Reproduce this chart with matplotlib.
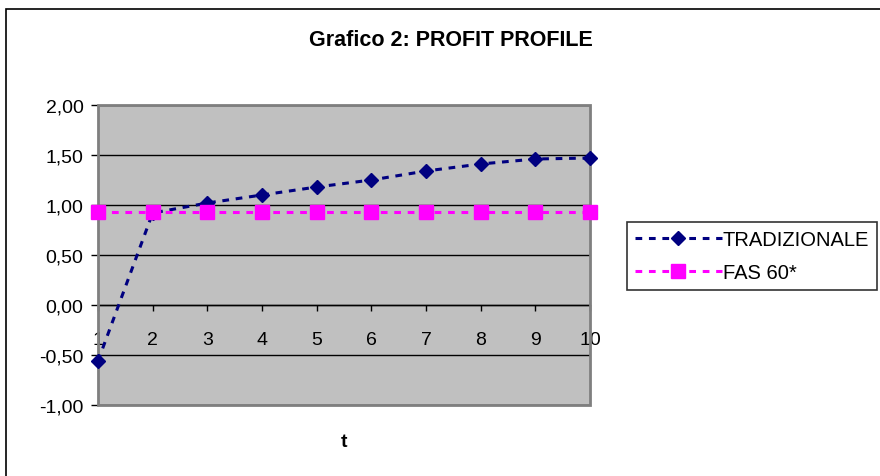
import matplotlib.pyplot as plt
from matplotlib.patches import Rectangle
from matplotlib.ticker import FuncFormatter

plt.rcParams['font.family'] = ['Liberation Sans', 'DejaVu Sans']

# Profit profile by period t
t = [1, 2, 3, 4, 5, 6, 7, 8, 9, 10]
tradizionale = [-0.56, 0.92, 1.02, 1.10, 1.18, 1.25, 1.34, 1.41, 1.46, 1.47]
fas60 = [0.93, 0.93, 0.93, 0.93, 0.93, 0.93, 0.93, 0.93, 0.93, 0.93]
y_ticks = [-1.0, -0.5, 0.0, 0.5, 1.0, 1.5, 2.0]

W, H = 880, 477
fig = plt.figure(figsize=(W / 100, H / 100), dpi=100)
fig.patch.set_facecolor('white')

# outer chart frame (runs off the right/bottom edge)
fig.patches.append(Rectangle((6 / W, -0.1), 1.2, 1 - 10 / H + 0.1,
                             transform=fig.transFigure, fill=False,
                             edgecolor='black', linewidth=1.2))

ax = fig.add_axes([98 / W, 1 - 406 / H, (590 - 98) / W, (406 - 106) / H])
ax.set_facecolor('#C0C0C0')

ax.plot(t, tradizionale, color='#000080', linestyle=(0, (2.2, 2.2)),
        linewidth=2.2, marker='D', markersize=6.8, label='TRADIZIONALE',
        clip_on=False, zorder=4)
ax.plot(t, fas60, color='#FF00FF', linestyle=(0, (2.2, 2.2)),
        linewidth=2.2, marker='s', markersize=10.5, label='FAS 60*',
        clip_on=False, zorder=5)

ax.set_xlim(1, 10)
ax.set_ylim(-1, 2)
ax.set_yticks(y_ticks)
ax.yaxis.set_major_formatter(FuncFormatter(lambda v, p: f"{v:.2f}".replace('.', ',')))
ax.yaxis.grid(True, color='black', linewidth=1)
ax.set_axisbelow(True)
ax.tick_params(axis='y', direction='out', length=5, width=1, labelsize=14,
               colors='black', pad=5.5)

# x axis crosses at y = 0
ax.spines['bottom'].set_position(('data', 0))
ax.set_xticks(t)
ax.tick_params(axis='x', direction='out', length=4.5, width=1, labelsize=14,
               pad=14)
for name in ('left', 'top', 'right'):
    ax.spines[name].set_visible(False)
ax.spines['bottom'].set_color('black')
ax.spines['bottom'].set_linewidth(1)

# plot-area border
ax.add_patch(Rectangle((0, 0), 1, 1, transform=ax.transAxes, fill=False,
                       edgecolor='#7F7F7F', linewidth=2, zorder=3,
                       clip_on=False))

fig.text(344 / W, 1 - 443 / H, 't', ha='center', va='center',
         fontsize=14, fontweight='bold')
fig.text(451 / W, 1 - 40 / H, 'Grafico 2: PROFIT PROFILE', ha='center',
         va='center', fontsize=15.5, fontweight='bold')

leg = fig.legend(loc='upper left', bbox_to_anchor=(627 / W, 1 - 223 / H),
                 frameon=True, fancybox=False, fontsize=14.5,
                 borderpad=0.4, labelspacing=0.7, handlelength=4.3,
                 handletextpad=0.05, borderaxespad=0)
leg.get_frame().set_edgecolor('black')
leg.get_frame().set_linewidth(1.2)

fig.savefig('out.png', dpi=100)
